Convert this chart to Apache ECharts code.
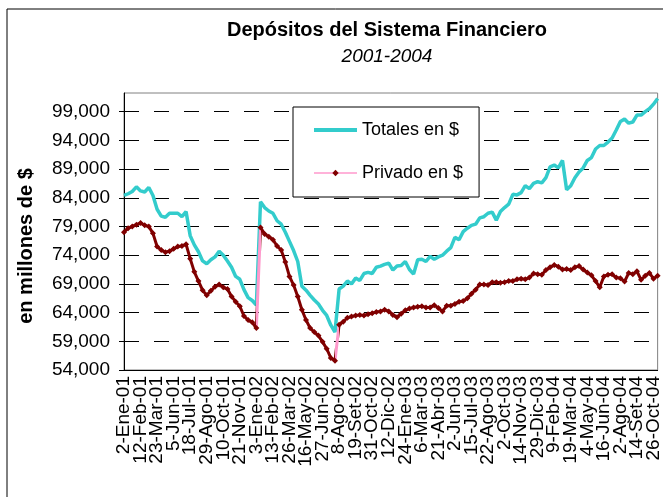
<!DOCTYPE html>
<html>
<head>
<meta charset="utf-8">
<script src="https://cdn.jsdelivr.net/npm/echarts@6/dist/echarts.min.js"></script>
<style>
  html, body { margin: 0; padding: 0; background: #fff; }
  #chart { width: 663px; height: 497px; }
</style>
</head>
<body>
<div id="chart"></div>
<script>
// tick labels shown under the x axis, one every 4 data points
const tickLabels = ['2-Ene-01', '12-Feb-01', '23-Mar-01', '5-Jun-01', '18-Jul-01', '29-Ago-01', '10-Oct-01',
  '21-Nov-01', '3-Ene-02', '13-Feb-02', '26-Mar-02', '16-May-02', '27-Jun-02', '8-Ago-02', '19-Set-02',
  '31-Oct-02', '12-Dic-02', '24-Ene-03', '6-Mar-03', '21-Abr-03', '2-Jun-03', '15-Jul-03', '22-Ago-03',
  '2-Oct-03', '14-Nov-03', '29-Dic-03', '9-Feb-04', '19-Mar-04', '4-May-04', '16-Jun-04', '2-Ago-04',
  '14-Set-04', '26-Oct-04'];

// en millones de $
const totales = [84400, 84700, 85100, 85900, 85200, 85000, 85800, 84400, 82000, 80800,
  80600, 81300, 81300, 81300, 80700, 81600, 77400, 75800, 74600, 73000,
  72500, 73200, 73700, 74700, 74000, 73000, 71900, 70300, 69800, 68000,
  66600, 66100, 65300, 83300, 82300, 81700, 81300, 80000, 79400, 78000,
  76400, 74800, 72900, 68600, 67900, 67000, 66200, 65500, 64400, 63500,
  61800, 60600, 68100, 68600, 69500, 69000, 70000, 69600, 70800, 71000,
  70800, 71900, 72100, 72400, 72600, 71400, 72100, 72200, 72900, 71500,
  70700, 73200, 73300, 72900, 73800, 73300, 73700, 74000, 74700, 75300,
  77100, 76700, 78100, 78700, 79200, 79400, 80500, 80700, 81300, 81500,
  80100, 81600, 82300, 82900, 84600, 84500, 84900, 86100, 85600, 86500,
  86800, 86600, 87500, 89400, 89700, 89200, 90500, 85400, 86100, 87500,
  88500, 89200, 90500, 91000, 92500, 93100, 93100, 93700, 94400, 95800,
  97300, 97700, 97000, 97200, 98400, 98400, 99000, 99500, 100300, 101300];

const privado = [78000, 78700, 79000, 79300, 79600, 79200, 79000, 77800, 75500, 74900,
  74500, 74700, 75100, 75500, 75600, 75900, 73400, 71100, 69500, 67900,
  67000, 67800, 68500, 68900, 68400, 68100, 66800, 65900, 65100, 63400,
  62700, 62300, 61300, 78800, 77700, 77200, 76700, 75600, 74900, 72800,
  70300, 68800, 66800, 64500, 62700, 61300, 60600, 60000, 58900, 57700,
  56100, 55600, 61900, 62400, 63100, 63300, 63500, 63600, 63500, 63700,
  63900, 64100, 64200, 64500, 64200, 63600, 63200, 63800, 64400, 64700,
  64900, 65000, 65100, 64900, 64900, 65300, 64800, 64200, 65200, 65200,
  65500, 65900, 66000, 66500, 67300, 68000, 68900, 68900, 68800, 69300,
  69300, 69200, 69300, 69500, 69500, 69800, 69900, 69800, 70100, 70800,
  70700, 70600, 71400, 71900, 72300, 72000, 71500, 71600, 71400, 71900,
  72100, 71500, 71000, 70500, 69500, 68400, 70300, 70600, 70700, 70100,
  70000, 69400, 70900, 70700, 71200, 69700, 70400, 70900, 69900, 70400];

const yTicks = [54000, 59000, 64000, 69000, 74000, 79000, 84000, 89000, 94000, 99000];

const perTick = 4;
const categories = totales.map((v, i) => (i % perTick === 0 ? tickLabels[i / perTick] : ''));

const font = 'Arial, "Liberation Sans", sans-serif';
const teal = '#33CCCC';
const pink = '#FF99CC';
const darkRed = '#800000';

const myChart = echarts.init(document.getElementById('chart'));

const option = {
  animation: false,
  backgroundColor: '#fff',
  graphic: [
    {
      type: 'rect',
      shape: { x: 7, y: 9, width: 700, height: 600 },
      style: { fill: 'none', stroke: '#000', lineWidth: 1 }
    },
    {
      type: 'text', x: 387, y: 30,
      style: { text: 'Depósitos del Sistema Financiero', fill: '#000', font: 'bold 20px ' + font,
        textAlign: 'center', textVerticalAlign: 'middle' }
    },
    {
      type: 'text', x: 387, y: 57,
      style: { text: '2001-2004', fill: '#000', font: 'italic 19px ' + font,
        textAlign: 'center', textVerticalAlign: 'middle' }
    },
    {
      type: 'text', x: 26, y: 246, rotation: Math.PI / 2,
      style: { text: 'en millones de $', fill: '#000', font: 'bold 20px ' + font,
        textAlign: 'center', textVerticalAlign: 'middle' }
    }
  ],
  legend: {
    left: 293,
    top: 107,
    orient: 'vertical',
    padding: [14, 16, 15, 19],
    itemGap: 25,
    itemWidth: 43,
    itemHeight: 8,
    borderColor: '#000',
    borderWidth: 1,
    backgroundColor: '#fff',
    textStyle: { fontSize: 18, color: '#000', fontFamily: font },
    data: [
      { name: 'Totales en $', itemStyle: { opacity: 0 }, lineStyle: { color: teal, width: 4 } },
      { name: 'Privado en $', itemStyle: { color: darkRed }, lineStyle: { color: pink, width: 1.5 } }
    ]
  },
  // the two big jumps of the private series keep the thin pink connector visible
  visualMap: {
    show: false,
    type: 'piecewise',
    seriesIndex: 1,
    dimension: 0,
    pieces: [
      { gt: 32, lt: 33, color: pink },
      { gt: 51, lt: 52, color: pink }
    ],
    outOfRange: { color: darkRed }
  },
  grid: {
    left: 124, right: 5, top: 93, bottom: 127,
    show: true, borderColor: '#808080', borderWidth: 1, backgroundColor: 'transparent'
  },
  xAxis: {
    type: 'category',
    data: categories,
    boundaryGap: false,
    axisLine: { lineStyle: { color: '#000', width: 1 } },
    axisTick: { show: false },
    axisLabel: {
      // every category gets a label slot; only every 4th one has text
      interval: 0, rotate: 90, fontSize: 19, color: '#000',
      fontFamily: font, margin: 6
    },
    splitLine: { show: false }
  },
  yAxis: {
    type: 'value',
    min: 54000,
    max: 102250,
    axisLine: { show: true, lineStyle: { color: '#000', width: 1 } },
    axisTick: { show: true, length: 5, customValues: yTicks, lineStyle: { color: '#000' } },
    axisLabel: {
      customValues: yTicks, fontSize: 19, color: '#000', fontFamily: font, margin: 14,
      formatter: v => v.toLocaleString('en-US')
    },
    splitLine: { show: true, lineStyle: { color: '#000', width: 1, type: [15, 15] } }
  },
  series: [
    {
      name: 'Totales en $',
      type: 'line',
      data: totales,
      symbol: 'none',
      lineStyle: { color: teal, width: 3.5 },
      itemStyle: { color: teal },
      silent: true
    },
    {
      name: 'Privado en $',
      type: 'line',
      data: privado,
      symbol: 'diamond',
      symbolSize: 6,
      showAllSymbol: true,
      lineStyle: { width: 3 },
      itemStyle: { color: darkRed },
      silent: true
    }
  ]
};

myChart.setOption(option);
</script>
</body>
</html>
